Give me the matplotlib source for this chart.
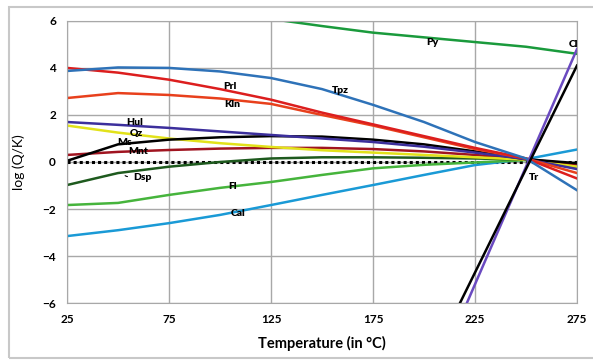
import matplotlib
matplotlib.use('Agg')
import matplotlib.pyplot as plt
from matplotlib.patches import Rectangle

plt.rcParams['font.family'] = ['Lato', 'DejaVu Sans']

temps = [25, 50, 75, 100, 125, 150, 175, 200, 225, 250, 275]

py = [7.9, 7.4, 7.0, 6.5, 6.08, 5.78, 5.5, 5.3, 5.1, 4.9, 4.6]
tpz = [3.87, 4.02, 4.0, 3.85, 3.57, 3.1, 2.43, 1.7, 0.85, 0.15, -1.2]
prl = [4.0, 3.8, 3.5, 3.1, 2.65, 2.1, 1.6, 1.1, 0.6, 0.15, -0.7]
kln = [2.72, 2.93, 2.85, 2.7, 2.47, 2.0, 1.55, 1.05, 0.55, 0.15, -0.47]
hul = [1.7, 1.58, 1.45, 1.3, 1.15, 1.0, 0.85, 0.65, 0.4, 0.12, -0.3]
qz = [1.55, 1.25, 1.0, 0.8, 0.64, 0.5, 0.4, 0.3, 0.2, 0.1, -0.2]
ms = [0.05, 0.75, 0.95, 1.05, 1.1, 1.08, 0.95, 0.75, 0.45, 0.12, -0.05]
mnt = [0.3, 0.43, 0.51, 0.57, 0.6, 0.6, 0.55, 0.45, 0.3, 0.12, -0.1]
dsp = [-0.98, -0.47, -0.2, 0.0, 0.15, 0.2, 0.2, 0.18, 0.15, 0.1, -0.1]
fl = [-1.83, -1.74, -1.4, -1.1, -0.85, -0.55, -0.27, -0.12, -0.02, 0.08, -0.25]
cal = [-3.15, -2.9, -2.6, -2.25, -1.83, -1.4, -0.98, -0.55, -0.13, 0.12, 0.53]

cl_temps = [200, 225, 250, 275]
cl_a = [-10.2, -5.2, -0.2, 4.8]
cl_b = [-9.1, -4.7, -0.3, 4.1]

fig = plt.figure(figsize=(5.93, 3.6), dpi=100)
ax = fig.add_axes([0.113, 0.158, 0.86, 0.784])

lw = 1.8
ax.plot(temps, [0] * len(temps), color='black', ls=(0, (1, 1)), lw=2.2, zorder=1)
ax.plot(temps, py, color='#1a9a3c', lw=lw)
ax.plot(temps, cal, color='#1a9ad6', lw=lw)
ax.plot(temps, fl, color='#46b43c', lw=lw)
ax.plot(temps, dsp, color='#1e5a1e', lw=lw)
ax.plot(temps, mnt, color='#a01420', lw=lw)
ax.plot(temps, qz, color='#e2e21a', lw=lw)
ax.plot(temps, ms, color='black', lw=lw)
ax.plot(temps, hul, color='#3c2f9c', lw=lw)
ax.plot(temps, kln, color='#e8401c', lw=lw)
ax.plot(temps, prl, color='#dc1e1e', lw=lw)
ax.plot(temps, tpz, color='#2e72b8', lw=lw)
ax.plot(cl_temps, cl_a, color='#6a4ac0', lw=lw)
ax.plot(cl_temps, cl_b, color='black', lw=lw)

ax.set_xlim(25, 275)
ax.set_ylim(-6, 6)
ax.set_xticks([25, 75, 125, 175, 225, 275])
ax.set_yticks([-6, -4, -2, 0, 2, 4, 6])
ax.grid(True, color='#a8a8a8', lw=1)
ax.set_axisbelow(True)
for s in ax.spines.values():
    s.set_color('#a8a8a8')
ax.tick_params(length=0, labelsize=8.5, pad=8)
for t in ax.get_xticklabels() + ax.get_yticklabels():
    t.set_fontweight('bold')
ax.set_xlabel('Temperature (in °C)', fontsize=10.5, fontweight='bold', labelpad=8)
ax.set_ylabel('log (Q/K)', fontsize=10, labelpad=12)

labels = [('Prl', 105, 3.19), ('Kln', 106, 2.43), ('Tpz', 159, 3.02),
          ('Py', 204, 5.06), ('Cl', 273.5, 5.0), ('Hul', 58, 1.7),
          ('Qz', 59, 1.23), ('Ms', 53, 0.81), ('Mnt', 60, 0.43),
          ('Dsp', 62, -0.64), ('Fl', 106, -1.06), ('Cal', 109, -2.2),
          ('Tr', 254, -0.64)]
for name, x, y in labels:
    ax.text(x, y, name, fontsize=7.5, fontweight='heavy', ha='center', va='center')
ax.annotate('', xy=(52.5, -0.5), xytext=(56, -0.62),
            arrowprops=dict(arrowstyle='-', color='black', lw=0.8,
                            connectionstyle='arc3,rad=-0.3'))

fig.patches.append(Rectangle((9 / 593, 2 / 360), 1.0, 1 - 9 / 360,
                             transform=fig.transFigure, fill=False,
                             edgecolor='#c8c8c8', lw=1.5))

fig.savefig('out.png', dpi=100)
